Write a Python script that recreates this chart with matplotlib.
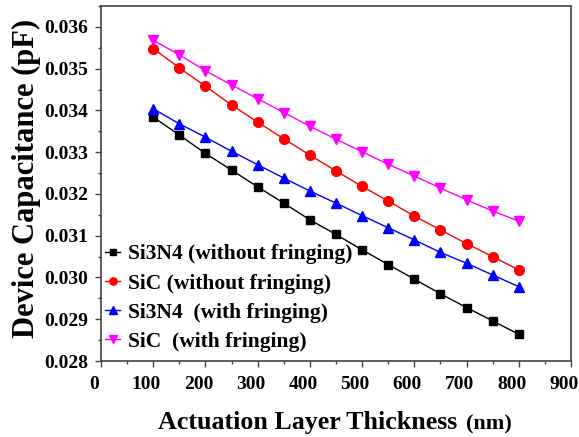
import matplotlib
matplotlib.use('Agg')
import matplotlib.pyplot as plt
import matplotlib.transforms as mtransforms
from matplotlib.ticker import MultipleLocator, FormatStrFormatter

plt.rcParams['font.family'] = 'Liberation Serif'
plt.rcParams['font.weight'] = 'bold'

thickness = [100, 150, 200, 250, 300, 350, 400, 450, 500, 550, 600, 650, 700, 750, 800]

si3n4_nofr = [0.03384, 0.03341, 0.03297, 0.03257, 0.03217, 0.03178, 0.03138, 0.03103,
              0.03066, 0.03031, 0.02996, 0.02961, 0.02928, 0.02896, 0.02864]
sic_nofr = [0.03548, 0.03502, 0.03458, 0.03413, 0.03372, 0.03332, 0.03293, 0.03255,
            0.03218, 0.03183, 0.03147, 0.03114, 0.03081, 0.03050, 0.03018]
si3n4_fr = [0.03404, 0.03368, 0.03336, 0.03302, 0.03270, 0.03238, 0.03207, 0.03178,
            0.03148, 0.03119, 0.03090, 0.03060, 0.03034, 0.03006, 0.02978]
sic_fr = [0.03568, 0.03533, 0.03495, 0.03461, 0.03428, 0.03395, 0.03362, 0.03331,
          0.03301, 0.03271, 0.03243, 0.03214, 0.03186, 0.03159, 0.03135]

labels = ['Si3N4 (without fringing)', 'SiC (without fringing)',
          'Si3N4  (with fringing)', 'SiC  (with fringing)']

fig = plt.figure(figsize=(5.79, 4.37), dpi=100)
ax = fig.add_axes([101 / 579, 1 - 361 / 437, 470 / 579, 355 / 437])

ax.plot(thickness, si3n4_nofr, color='black', marker='s', ms=6, lw=1, label=labels[0])
ax.plot(thickness, sic_nofr, color='red', marker='o', ms=7, lw=1, label=labels[1])
ax.plot(thickness, si3n4_fr, color='blue', marker='^', ms=7.5, lw=1, label=labels[2])
ax.plot(thickness, sic_fr, color='magenta', marker='v', ms=7.5, lw=1, label=labels[3])

ax.set_xlim(0, 900)
ax.set_ylim(0.028, 0.0365)
ax.xaxis.set_major_locator(MultipleLocator(100))
ax.xaxis.set_minor_locator(MultipleLocator(50))
ax.yaxis.set_major_locator(MultipleLocator(0.001))
ax.yaxis.set_minor_locator(MultipleLocator(0.0005))
ax.yaxis.set_major_formatter(FormatStrFormatter('%.3f'))
ax.tick_params(which='both', direction='out', top=False, right=False, labelsize=14,
               width=1, color='#444444')
ax.tick_params(which='major', length=4, pad=5)
ax.tick_params(axis='x', which='major', pad=7)
ax.tick_params(which='minor', length=2.5)
for s in ax.spines.values():
    s.set_color('#444444')
    s.set_linewidth(1.2)

# x tick labels sit a little left of their ticks in the original
shift = mtransforms.ScaledTranslation(-7 / 100, 0, fig.dpi_scale_trans)
for lbl in ax.get_xticklabels():
    lbl.set_transform(lbl.get_transform() + shift)

fig.text(26 / 579, 1 - 178 / 437, 'Device Capacitance (pF)', rotation=90,
         fontsize=22, fontweight='bold', ha='center', va='center')
fig.text(158 / 579, 1 - 429 / 437, 'Actuation Layer Thickness', fontsize=18.75,
         fontweight='bold', ha='left', va='baseline')
fig.text(466 / 579, 1 - 429 / 437, '(nm)', fontsize=16,
         fontweight='bold', ha='left', va='baseline')

leg = ax.legend(loc='lower left', bbox_to_anchor=(0.0, 0.014), frameon=False, fontsize=15.5,
                markerscale=0.75, handlelength=0.7, handletextpad=0.35, labelspacing=0.42,
                borderaxespad=0.0, borderpad=0.2)

fig.savefig('out.png', dpi=100)
